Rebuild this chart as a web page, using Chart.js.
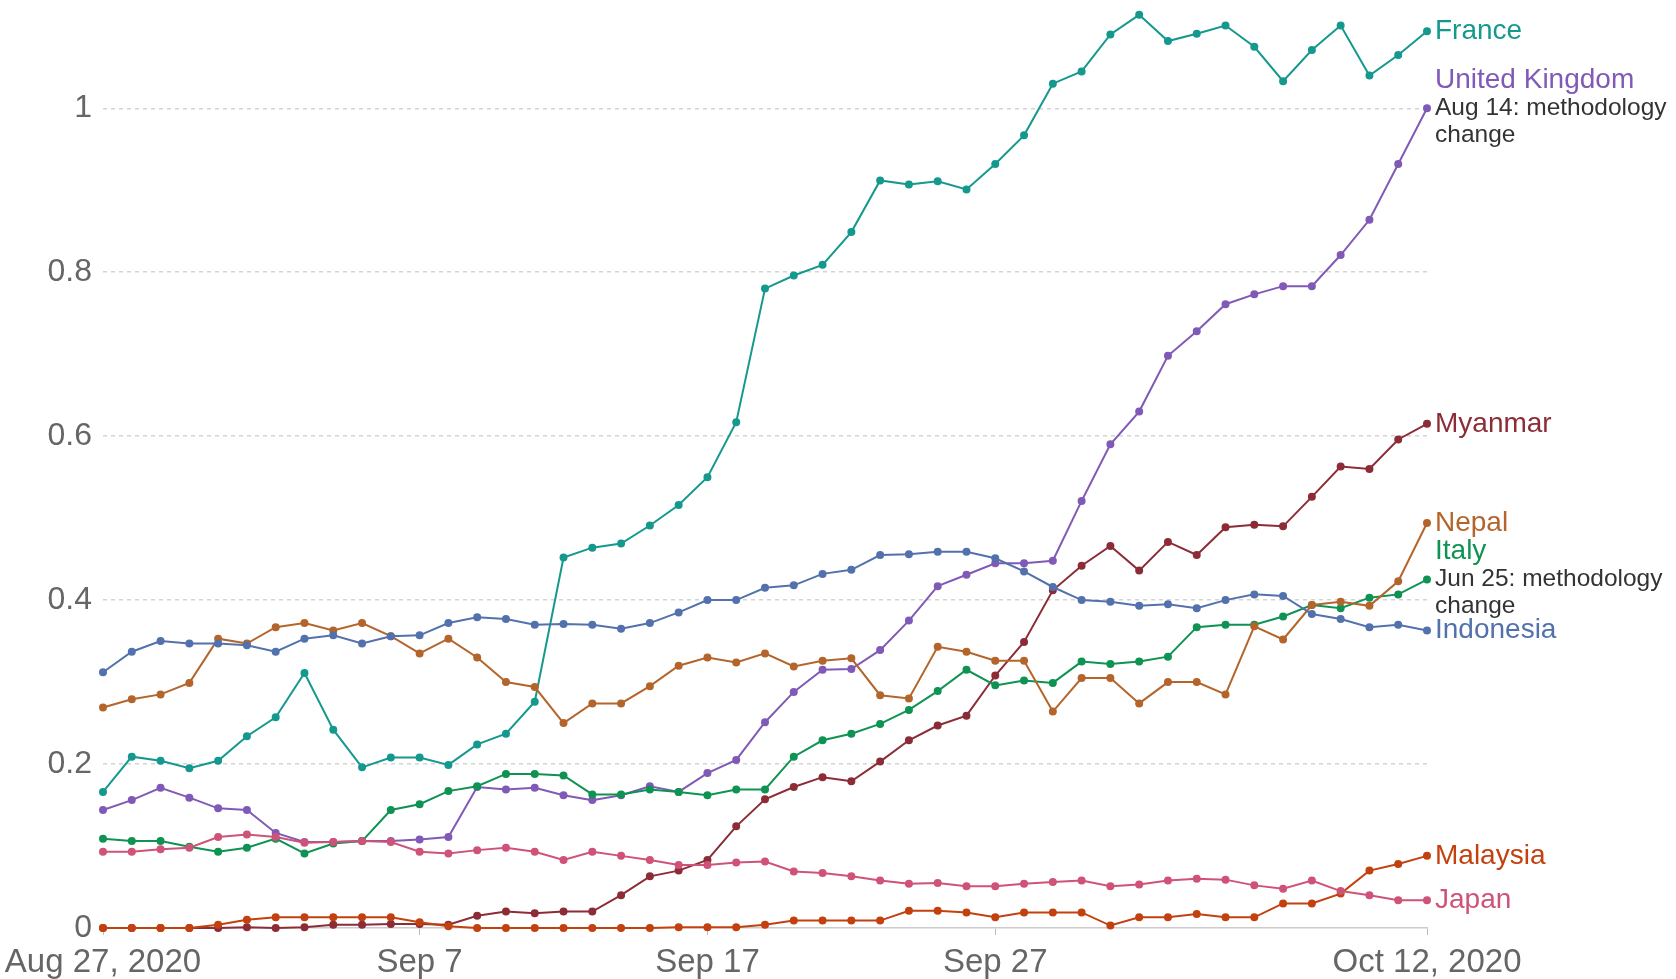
<!DOCTYPE html>
<html>
<head>
<meta charset="utf-8">
<script src="https://cdn.jsdelivr.net/npm/chart.js@4.4.1/dist/chart.umd.min.js"></script>
<style>
  html, body { margin: 0; padding: 0; background: #fff; }
  #wrap { width: 1676px; height: 979px; position: relative; }
</style>
</head>
<body>
<div id="wrap"><canvas id="line-chart-countries"></canvas></div>
<script>
const days = [
    "Aug 27", "Aug 28", "Aug 29", "Aug 30", "Aug 31",
    "Sep 1", "Sep 2", "Sep 3", "Sep 4", "Sep 5", "Sep 6", "Sep 7", "Sep 8", "Sep 9", "Sep 10",
    "Sep 11", "Sep 12", "Sep 13", "Sep 14", "Sep 15", "Sep 16", "Sep 17", "Sep 18", "Sep 19", "Sep 20",
    "Sep 21", "Sep 22", "Sep 23", "Sep 24", "Sep 25", "Sep 26", "Sep 27", "Sep 28", "Sep 29", "Sep 30",
    "Oct 1", "Oct 2", "Oct 3", "Oct 4", "Oct 5", "Oct 6", "Oct 7", "Oct 8", "Oct 9", "Oct 10",
    "Oct 11", "Oct 12"
];
const tickDays = ["Aug 27", "Sep 7", "Sep 17", "Sep 27", "Oct 12"];
const tickText = ["Aug 27, 2020", "Sep 7", "Sep 17", "Sep 27", "Oct 12, 2020"];

const france = [0.166, 0.209, 0.204, 0.195, 0.204, 0.234, 0.257, 0.311, 0.242, 0.196, 0.208, 0.208, 0.199, 0.224, 0.237, 0.276,
    0.452, 0.464, 0.469, 0.491, 0.516, 0.550, 0.617, 0.780, 0.796, 0.809, 0.849, 0.912, 0.907, 0.911, 0.901, 0.932,
    0.967, 1.030, 1.045, 1.090, 1.114, 1.082, 1.091, 1.101, 1.075, 1.033, 1.071, 1.101, 1.040, 1.065, 1.094];
const unitedKingdom = [0.144, 0.156, 0.171, 0.159, 0.146, 0.144, 0.116, 0.105, 0.105, 0.106, 0.106, 0.108, 0.111, 0.172, 0.169, 0.171,
    0.162, 0.156, 0.162, 0.173, 0.166, 0.189, 0.205, 0.251, 0.288, 0.315, 0.316, 0.339, 0.375, 0.417, 0.431, 0.445,
    0.445, 0.448, 0.521, 0.590, 0.630, 0.698, 0.728, 0.761, 0.773, 0.783, 0.783, 0.821, 0.864, 0.932, 1.000];
const myanmar = [0, 0, 0, 0, 0, 0.001, 0, 0.001, 0.004, 0.004, 0.005, 0.005, 0.004, 0.015, 0.020, 0.018,
    0.020, 0.020, 0.040, 0.063, 0.070, 0.083, 0.124, 0.157, 0.172, 0.184, 0.179, 0.203, 0.229, 0.247, 0.259, 0.308,
    0.349, 0.412, 0.442, 0.466, 0.436, 0.471, 0.455, 0.489, 0.492, 0.490, 0.526, 0.563, 0.560, 0.596, 0.615];
const nepal = [0.269, 0.279, 0.285, 0.299, 0.353, 0.347, 0.367, 0.372, 0.363, 0.372, 0.356, 0.335, 0.353, 0.330, 0.300, 0.294,
    0.250, 0.274, 0.274, 0.295, 0.320, 0.330, 0.324, 0.335, 0.319, 0.326, 0.329, 0.284, 0.280, 0.343, 0.337, 0.326,
    0.326, 0.264, 0.305, 0.305, 0.274, 0.300, 0.300, 0.285, 0.368, 0.352, 0.394, 0.398, 0.393, 0.423, 0.494];
const italy = [0.109, 0.106, 0.106, 0.099, 0.093, 0.098, 0.109, 0.091, 0.103, 0.106, 0.144, 0.151, 0.167, 0.173, 0.188, 0.188,
    0.186, 0.163, 0.163, 0.169, 0.166, 0.162, 0.169, 0.169, 0.209, 0.229, 0.237, 0.249, 0.266, 0.289, 0.315, 0.296,
    0.302, 0.299, 0.325, 0.322, 0.325, 0.331, 0.367, 0.370, 0.370, 0.380, 0.394, 0.390, 0.403, 0.407, 0.425];
const indonesia = [0.312, 0.337, 0.350, 0.347, 0.347, 0.345, 0.337, 0.353, 0.357, 0.347, 0.356, 0.357, 0.372, 0.379, 0.377, 0.370,
    0.371, 0.370, 0.365, 0.372, 0.385, 0.400, 0.400, 0.415, 0.418, 0.432, 0.437, 0.455, 0.456, 0.459, 0.459, 0.451,
    0.435, 0.416, 0.400, 0.398, 0.393, 0.395, 0.390, 0.400, 0.407, 0.405, 0.383, 0.377, 0.367, 0.370, 0.363];
const malaysia = [0, 0, 0, 0, 0.004, 0.010, 0.013, 0.013, 0.013, 0.013, 0.013, 0.007, 0.002, 0, 0, 0,
    0, 0, 0, 0, 0.001, 0.001, 0.001, 0.004, 0.009, 0.009, 0.009, 0.009, 0.021, 0.021, 0.019, 0.013,
    0.019, 0.019, 0.019, 0.003, 0.013, 0.013, 0.017, 0.013, 0.013, 0.030, 0.030, 0.042, 0.070, 0.078, 0.088];
const japan = [0.093, 0.093, 0.096, 0.098, 0.111, 0.114, 0.111, 0.104, 0.105, 0.106, 0.105, 0.093, 0.091, 0.095, 0.098, 0.093,
    0.083, 0.093, 0.088, 0.083, 0.077, 0.077, 0.080, 0.081, 0.069, 0.067, 0.063, 0.058, 0.054, 0.055, 0.051, 0.051,
    0.054, 0.056, 0.058, 0.051, 0.053, 0.058, 0.060, 0.059, 0.052, 0.048, 0.058, 0.045, 0.040, 0.034, 0.034];

const countries = ["Japan", "Malaysia", "Indonesia", "Nepal", "Italy", "Myanmar", "United Kingdom", "France"];
const seriesValues = [japan, malaysia, indonesia, nepal, italy, myanmar, unitedKingdom, france];
const seriesColors = ["#cf5378", "#c2410f", "#5271ad", "#b4652b", "#0f9353", "#8c2c37", "#8159b6", "#15998e"];
const notes = {
    "United Kingdom": ["Aug 14: methodology", "change"],
    "Italy": ["Jun 25: methodology", "change"]
};

const fontFamily = '"Liberation Sans", Arial, Helvetica, sans-serif';
Chart.defaults.font.family = fontFamily;

// names (and notes) written at the end of each line
const endLabels = {
    id: 'endLabels',
    afterDatasetsDraw(chart) {
        const ctx = chart.ctx;
        ctx.save();
        ctx.textAlign = 'left';
        ctx.textBaseline = 'middle';
        chart.data.datasets.forEach(function(ds, i) {
            const meta = chart.getDatasetMeta(i);
            const pt = meta.data[meta.data.length - 1];
            const x = pt.x + 8;
            let y = pt.y;
            const note = notes[ds.label];
            if (note) {
                ctx.font = '24.5px ' + fontFamily;
                ctx.fillStyle = '#333';
                note.forEach(function(t, k) { ctx.fillText(t, x, y + k * 27); });
                y -= 28;
            }
            ctx.font = '28px ' + fontFamily;
            ctx.fillStyle = ds.borderColor;
            ctx.fillText(ds.label, x, y);
        });
        ctx.restore();
    }
};

document.addEventListener("DOMContentLoaded", function() {
    new Chart(document.getElementById("line-chart-countries"), {
        type: 'line',
        data: {
            labels: days,
            datasets: countries.map(function(name, i) {
                return {
                    label: name,
                    data: seriesValues[i],
                    borderColor: seriesColors[i],
                    backgroundColor: seriesColors[i],
                    borderWidth: 2,
                    pointRadius: 3,
                    pointHoverRadius: 3,
                    tension: 0,
                    clip: false
                };
            })
        },
        options: {
            responsive: true,
            maintainAspectRatio: false,
            animation: false,
            devicePixelRatio: 1,
            layout: { padding: { left: 0, right: 249, top: 0, bottom: 0 } },
            plugins: {
                legend: { display: false },
                tooltip: { enabled: false }
            },
            scales: {
                x: {
                    offset: false,
                    afterFit: function(s) { s.height = 51; s.paddingLeft = 0; s.paddingRight = 0; },
                    ticks: {
                        autoSkip: false,
                        maxRotation: 0,
                        color: '#666',
                        font: { size: 33 },
                        padding: 8,
                        callback: function(v, i) {
                            const k = tickDays.indexOf(days[i]);
                            return k < 0 ? null : tickText[k];
                        }
                    },
                    grid: {
                        drawOnChartArea: false,
                        drawTicks: true,
                        tickLength: 7,
                        color: function(c) { return c.tick && c.tick.label ? '#bbb' : 'rgba(0,0,0,0)'; }
                    },
                    border: { display: true, color: '#ccc', width: 1.5 }
                },
                y: {
                    min: 0,
                    max: 1.126,
                    afterFit: function(s) { s.width = 103; s.paddingTop = 0; s.paddingBottom = 0; },
                    afterBuildTicks: function(s) { s.ticks = s.ticks.filter(function(t) { return t.value <= 1.0001; }); },
                    ticks: {
                        stepSize: 0.2,
                        color: '#666',
                        font: { size: 32 },
                        padding: 11,
                        callback: function(v) { return String(+Number(v).toFixed(1)); }
                    },
                    grid: {
                        drawTicks: false,
                        lineWidth: 1.5,
                        color: function(c) { return c.tick && c.tick.value === 0 ? 'rgba(0,0,0,0)' : '#d4d4d4'; }
                    },
                    border: { display: false, dash: [4, 4] }
                }
            }
        },
        plugins: [endLabels]
    });
});
</script>
</body>
</html>
